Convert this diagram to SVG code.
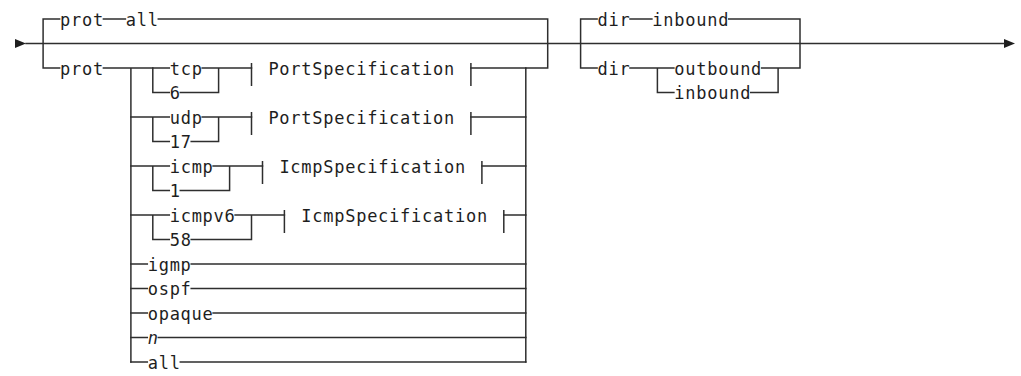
<svg xmlns="http://www.w3.org/2000/svg" width="1021" height="376" viewBox="0 0 1021 376">
<style>
.ln{fill:none;stroke:#2e2e2e;stroke-width:1.5;stroke-linecap:square}
.tk{fill:none;stroke:#2e2e2e;stroke-width:1.5}
text{font-family:"DejaVu Sans Mono","Liberation Mono",monospace;font-size:17px;letter-spacing:0.74px;fill:#1e1e1e}
.var{font-style:italic}
.ar{fill:#1e1e1e}
</style>
<rect width="1021" height="376" fill="#fff"/>
<g id="connectors">
<polygon class="ar" points="15,39 26,43.5 15,48"/>
<polygon class="ar" points="1004,39 1015,43.5 1004,48"/>
<path class="ln" d="M26,43.5 H1004"/>
<path class="ln" d="M43.1,19 V68 M43.1,19 H59.6 M103.4,19 H125.4 M158.3,19 H547.7 V68 M43.1,68 H59.6 M103.4,68 H169.3 M130.9,68 V362 M525.8,68 V362 M525.8,68 H547.7"/>
<path class="ln" d="M152.8,68 V92.5 H169.3 M180.3,92.5 H218.6 V68 M202.2,68 H251.5 M470.9,68 H525.8"/>
<path class="ln" d="M130.9,117 H169.3 M152.8,117 V141.5 H169.3 M191.2,141.5 H218.6 V117 M202.2,117 H251.5 M470.9,117 H525.8"/>
<path class="ln" d="M130.9,166 H169.3 M152.8,166 V190.5 H169.3 M180.3,190.5 H229.6 V166 M213.1,166 H262.5 M481.9,166 H525.8"/>
<path class="ln" d="M130.9,215 H169.3 M152.8,215 V239.5 H169.3 M191.2,239.5 H251.5 V215 M235.1,215 H284.4 M503.8,215 H525.8"/>
<path class="ln" d="M130.9,264 H147.3 M191.2,264 H525.8 M130.9,288.5 H147.3 M191.2,288.5 H525.8 M130.9,313 H147.3 M213.1,313 H525.8 M130.9,337.5 H147.3 M158.3,337.5 H525.8 M130.9,362 H147.3 M180.3,362 H525.8"/>
<path class="ln" d="M580.6,19 V68 M580.6,19 H597.1 M630,19 H651.9 M728.7,19 H800 V68 M580.6,68 H597.1 M630,68 H673.9 M657.4,68 V92.5 H673.9 M750.7,92.5 H778.1 V68 M761.6,68 H800"/>
</g>
<g id="n-prot-all"><text x="60" y="25.8">prot</text><text x="125.8" y="25.8">all</text></g>
<g id="n-prot"><text x="60" y="74.8">prot</text></g>
<g id="n-tcp"><text x="169.7" y="74.8">tcp</text></g>
<g id="n-6"><text x="169.7" y="99.3">6</text></g>
<g id="n-udp"><text x="169.7" y="123.8">udp</text></g>
<g id="n-17"><text x="169.7" y="148.3">17</text></g>
<g id="n-icmp"><text x="169.7" y="172.8">icmp</text></g>
<g id="n-1"><text x="169.7" y="197.3">1</text></g>
<g id="n-icmpv6"><text x="169.7" y="221.8">icmpv6</text></g>
<g id="n-58"><text x="169.7" y="246.3">58</text></g>
<g id="n-portspec-1"><path class="tk" d="M251.5,63 V86 M470.9,63 V86"/><text x="268.4" y="74.8">PortSpecification</text></g>
<g id="n-portspec-2"><path class="tk" d="M251.5,112 V135 M470.9,112 V135"/><text x="268.4" y="123.8">PortSpecification</text></g>
<g id="n-icmpspec-1"><path class="tk" d="M262.5,161 V184 M481.9,161 V184"/><text x="279.4" y="172.8">IcmpSpecification</text></g>
<g id="n-icmpspec-2"><path class="tk" d="M284.4,210 V233 M503.8,210 V233"/><text x="301.3" y="221.8">IcmpSpecification</text></g>
<g id="n-igmp"><text x="147.7" y="270.8">igmp</text></g>
<g id="n-ospf"><text x="147.7" y="295.3">ospf</text></g>
<g id="n-opaque"><text x="147.7" y="319.8">opaque</text></g>
<g id="n-n"><text class="var" x="147.7" y="344.3">n</text></g>
<g id="n-all"><text x="147.7" y="368.8">all</text></g>
<g id="n-dir-inbound"><text x="597.5" y="25.8">dir</text><text x="652.3" y="25.8">inbound</text></g>
<g id="n-dir"><text x="597.5" y="74.8">dir</text></g>
<g id="n-outbound"><text x="674.3" y="74.8">outbound</text></g>
<g id="n-inbound"><text x="674.3" y="99.3">inbound</text></g>
</svg>
